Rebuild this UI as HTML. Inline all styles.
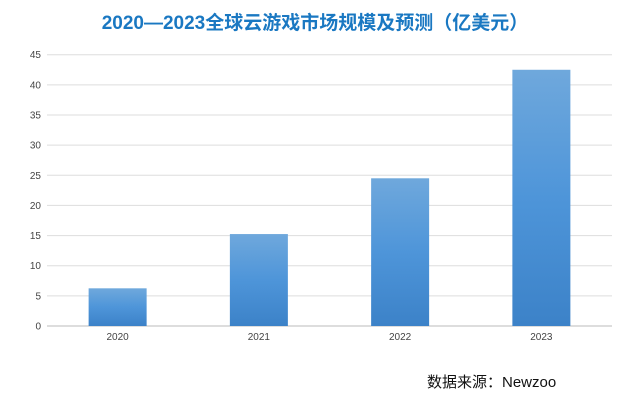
<!DOCTYPE html>
<html><head><meta charset="utf-8"><style>
body{margin:0;background:#fff;}
svg{display:block;font-family:"Liberation Sans","Noto Sans CJK SC",sans-serif;}
</style></head><body>
<svg width="629" height="400">
<defs><linearGradient id="g" x1="0" y1="0" x2="0" y2="1"><stop offset="0" stop-color="#6fa8dc"/><stop offset="0.5" stop-color="#4e95d9"/><stop offset="1" stop-color="#3c82c8"/></linearGradient></defs>
<text x="315" y="29" text-anchor="middle" font-size="19" font-weight="bold" fill="#1a78c2">2020—2023全球云游戏市场规模及预测（亿美元）</text>
<g id="grid"></g><g id="bars"></g><g id="xl"></g>
<text x="427" y="387" font-size="15" fill="#111">数据来源：Newzoo</text>
</svg>
<script>
const categories=["2020","2021","2022","2023"];
const values=[6.25,15.25,24.5,42.5];
const ticks=[0,5,10,15,20,25,30,35,40,45];
const x0=47,x1=612,yZero=326,yTop=54.7,maxV=45;
const y=v=>yZero-(v/maxV)*(yZero-yTop);
const band=(x1-x0)/categories.length;
const xc=i=>x0+band*(i+0.5);
const ns="http://www.w3.org/2000/svg";
const grid=document.getElementById('grid'),bars=document.getElementById('bars'),xl=document.getElementById('xl');
ticks.forEach(t=>{
 const l=document.createElementNS(ns,'line');
 l.setAttribute('x1',x0);l.setAttribute('x2',x1);l.setAttribute('y1',y(t));l.setAttribute('y2',y(t));
 l.setAttribute('stroke',t===0?'#bbb':'#ddd');l.setAttribute('stroke-width','1');
 
 
 grid.appendChild(l);
 const tx=document.createElementNS(ns,'text');
 tx.setAttribute('x',41);tx.setAttribute('y',y(t)+3.5);tx.setAttribute('text-anchor','end');tx.setAttribute('font-size','10');tx.setAttribute('fill','#444');
 tx.textContent=t;
 
 
 grid.appendChild(tx);
});
categories.forEach((c,i)=>{
 const r=document.createElementNS(ns,'rect');
 const w=58;
 r.setAttribute('x',xc(i)-w/2);r.setAttribute('y',y(values[i]));r.setAttribute('width',w);r.setAttribute('height',yZero-y(values[i]));
 r.setAttribute('fill','url(#g)');
 
 
 bars.appendChild(r);
 const t=document.createElementNS(ns,'text');
 t.setAttribute('x',xc(i));t.setAttribute('y',340);t.setAttribute('text-anchor','middle');t.setAttribute('font-size','10');t.setAttribute('fill','#444');
 t.textContent=c;
 
 
 xl.appendChild(t);
});
</script>
</body></html>
